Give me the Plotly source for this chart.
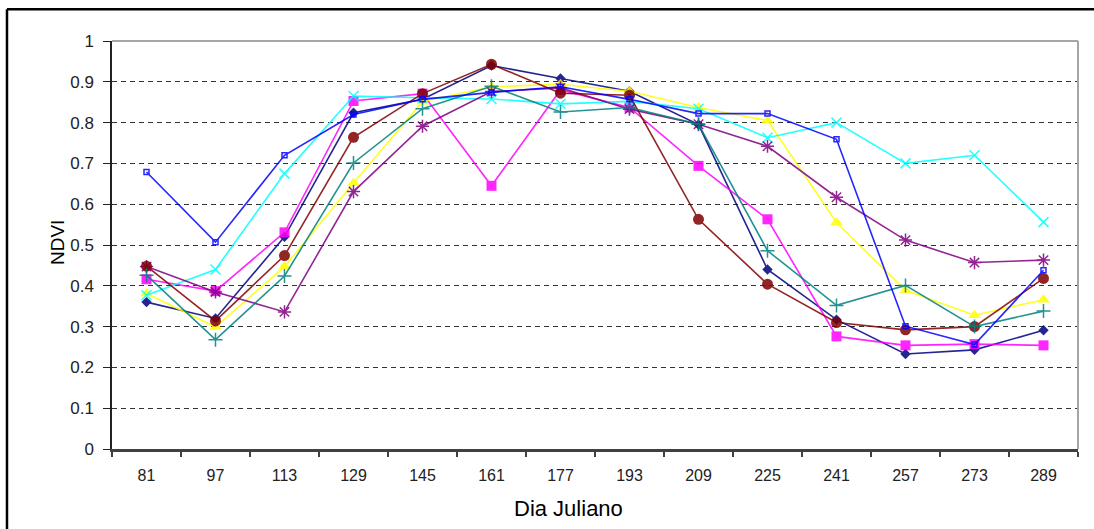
import plotly.graph_objects as go

days = ["81", "97", "113", "129", "145", "161", "177", "193", "209", "225", "241", "257", "273", "289"]

navy = [0.36, 0.32, 0.52, 0.824, 0.857, 0.94, 0.908, 0.877, 0.795, 0.44, 0.317, 0.233, 0.243, 0.291]
magenta = [0.416, 0.387, 0.531, 0.853, 0.871, 0.645, 0.88, 0.837, 0.694, 0.563, 0.276, 0.254, 0.257, 0.254]
yellow = [0.381, 0.299, 0.447, 0.652, 0.851, 0.888, 0.894, 0.877, 0.837, 0.805, 0.555, 0.389, 0.328, 0.366]
cyan = [0.377, 0.44, 0.675, 0.865, 0.861, 0.858, 0.846, 0.852, 0.834, 0.763, 0.80, 0.70, 0.72, 0.556]
purple = [0.447, 0.385, 0.336, 0.631, 0.791, 0.876, 0.885, 0.833, 0.796, 0.742, 0.617, 0.512, 0.457, 0.463]
maroon = [0.448, 0.314, 0.474, 0.764, 0.871, 0.943, 0.872, 0.867, 0.563, 0.404, 0.31, 0.292, 0.30, 0.418]
teal = [0.426, 0.268, 0.424, 0.701, 0.834, 0.889, 0.826, 0.837, 0.796, 0.486, 0.352, 0.401, 0.30, 0.338]
blue = [0.679, 0.507, 0.72, 0.82, 0.857, 0.874, 0.888, 0.857, 0.822, 0.822, 0.759, 0.301, 0.256, 0.438]

series = [
    (navy, "#000080", "diamond", 8, False),
    (magenta, "#FF00FF", "square", 10, False),
    (yellow, "#FFFF00", "triangle-up", 11, False),
    (cyan, "#00FFFF", "x-thin-open", 10, True),
    (purple, "#800080", "asterisk-open", 11, True),
    (maroon, "#800000", "circle", 11, False),
    (teal, "#008080", "cross-thin-open", 10, True),
    (blue, "#0000FF", "square-open", 5, True),
]

fig = go.Figure()
for vals, col, sym, sz, openm in series:
    fig.add_trace(go.Scatter(
        x=days, y=vals, mode="lines+markers",
        line=dict(color=col, width=1.6),
        marker=dict(symbol=sym, size=sz, color=col,
                    line=dict(color=col, width=1.5 if openm else 0)),
        opacity=0.85,
        showlegend=False,
    ))

font_fam = "Liberation Sans Narrow, Arial Narrow, Liberation Sans, Arial, sans-serif"

fig.update_layout(
    width=1094, height=529,
    margin=dict(l=112, r=16, t=41, b=80),
    paper_bgcolor="white", plot_bgcolor="white",
    xaxis=dict(
        type="category", range=[-0.5, 13.5],
        tickson="boundaries", ticks="outside", ticklen=5, tickwidth=1.5, tickcolor="#404040",
        showline=True, linecolor="#404040", linewidth=2.5,
        showgrid=False, zeroline=False,
        tickfont=dict(family=font_fam, size=16, color="#222"),
        ticklabelstandoff=10,
    ),
    yaxis=dict(
        range=[0, 1], dtick=0.1, tick0=0,
        ticks="outside", ticklen=7, tickwidth=1.2, tickcolor="#222",
        showline=True, linecolor="#222", linewidth=1.5,
        showgrid=True, gridcolor="#333", gridwidth=1.3, griddash="5px,4px",
        zeroline=False,
        tickfont=dict(family=font_fam, size=17, color="#222"),
        ticklabelstandoff=6,
    ),
    shapes=[
        dict(type="line", xref="paper", yref="paper", x0=0, x1=1, y0=1, y1=1,
             line=dict(color="#a6a6a6", width=2)),
        dict(type="line", xref="paper", yref="paper", x0=1, x1=1, y0=0, y1=1,
             line=dict(color="#a6a6a6", width=2)),
        dict(type="line", xref="paper", yref="paper", x0=-0.1087, x1=1.05, y0=1.078, y1=1.078,
             line=dict(color="black", width=2.5)),
        dict(type="line", xref="paper", yref="paper", x0=-0.1087, x1=-0.1087, y0=1.078, y1=-0.25,
             line=dict(color="black", width=2.5)),
    ],
    annotations=[
        dict(text="Dia Juliano", xref="paper", yref="paper", x=(568 - 112) / 966, y=-(508 - 449) / 408,
             showarrow=False, xanchor="center", yanchor="middle",
             font=dict(family="Liberation Sans, Arial, sans-serif", size=22, color="black")),
        dict(text="NDVI", xref="paper", yref="paper", x=-(112 - 57) / 966, y=(449 - 243) / 408,
             showarrow=False, xanchor="center", yanchor="middle", textangle=-90,
             font=dict(family="Liberation Sans, Arial, sans-serif", size=19, color="black")),
    ],
)

fig.write_html("out.html", config={"displayModeBar": False},
               post_script="document.body.style.margin='0';document.body.style.overflow='hidden';")
